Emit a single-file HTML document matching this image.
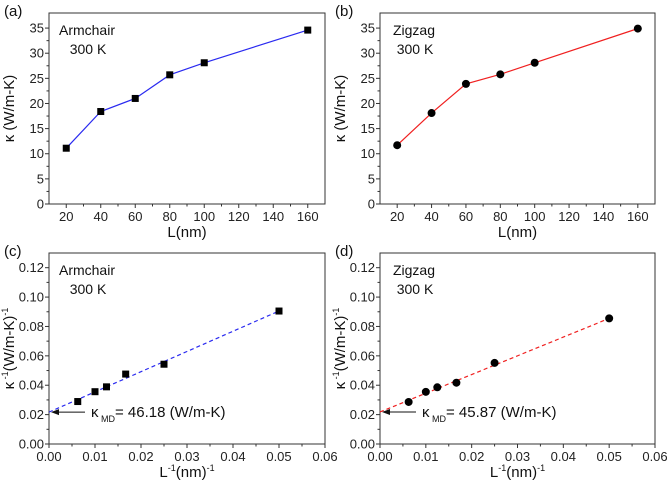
<!DOCTYPE html>
<html><head><meta charset="utf-8"><style>
body{margin:0;background:#fff}
svg{display:block;font-family:"Liberation Sans",sans-serif}
</style></head><body>
<svg id="fig" width="667" height="481" viewBox="0 0 667 481"></svg>
<script>
const lengthCats=[20,40,60,80,100,160];
const armchairK=[11.1,18.4,21.0,25.7,28.1,34.6];
const zigzagK=[11.7,18.1,23.9,25.8,28.1,34.9];
const invL=[0.00625,0.01,0.0125,0.01667,0.025,0.05];
const armchairInvK=[0.0289,0.0356,0.0389,0.0476,0.0543,0.0905];
const zigzagInvK=[0.0286,0.0355,0.0386,0.0417,0.0552,0.0855];
const armchairFit=[0.0217,0.0905];
const zigzagFit=[0.0218,0.0855];
const kTicks=[0,5,10,15,20,25,30,35];
const lTicks=[20,40,60,80,100,120,140,160];
const invLTicks=[0,0.01,0.02,0.03,0.04,0.05,0.06];
const invKTicks=[0,0.02,0.04,0.06,0.08,0.10,0.12];

const NS="http://www.w3.org/2000/svg";
const svg=document.getElementById('fig');
function mk(tag,attrs,parent,text){const e=document.createElementNS(NS,tag);for(const k in attrs)e.setAttribute(k,attrs[k]);if(text!==undefined)e.textContent=text;(parent||svg).appendChild(e);return e;}

function panel(o){
  const g=mk('g',{});
  
  
  const sx=v=>o.x0+(v-o.xmin)/(o.xmax-o.xmin)*(o.x1-o.x0);
  const sy=v=>o.y1-(v-o.ymin)/(o.ymax-o.ymin)*(o.y1-o.y0);
  const box=mk('rect',{x:o.x0,y:o.y0,width:o.x1-o.x0,height:o.y1-o.y0,fill:'none',stroke:'#333','stroke-width':1},g);
  
  
  o.xt.forEach(v=>{const x=sx(v);mk('line',{x1:x,x2:x,y1:o.y1,y2:o.y1+4,stroke:'#333'},g);
    const t=mk('text',{x:x,y:o.y1+17,'text-anchor':'middle','font-size':13,fill:'#222'},g,o.xf(v));
    });
  for(let i=0;i<o.xt.length-1;i++){const x=sx((o.xt[i]+o.xt[i+1])/2);mk('line',{x1:x,x2:x,y1:o.y1,y2:o.y1+2.5,stroke:'#333'},g);}
  o.yt.forEach(v=>{const y=sy(v);mk('line',{x1:o.x0-4,x2:o.x0,y1:y,y2:y,stroke:'#333'},g);
    const t=mk('text',{x:o.x0-5,y:y+4.5,'text-anchor':'end','font-size':13,fill:'#222'},g,o.yf(v));
    });
  for(let i=0;i<o.yt.length-1;i++){const y=sy((o.yt[i]+o.yt[i+1])/2);mk('line',{x1:o.x0-2.5,x2:o.x0,y1:y,y2:y,stroke:'#333'},g);}
  const pl=mk('text',{x:o.x0-45,y:o.y0+3,'font-size':15,fill:'#111'},g,o.label);
  
  const cx=o.x0+o.cx;
  const t1=mk('text',{x:cx,y:o.y0+22,'text-anchor':'middle','font-size':14,fill:'#111'},g,o.kind);
  
  const t2=mk('text',{x:cx+1,y:o.y0+41,'text-anchor':'middle','font-size':14,fill:'#111'},g,'300 K');
  
  const xt=mk('text',{x:(o.x0+o.x1)/2,y:o.y1+33,'text-anchor':'middle','font-size':15,fill:'#111'},g);
  
  const yt=mk('text',{transform:`translate(${o.x0-35},${(o.y0+o.y1)/2}) rotate(-90)`,'text-anchor':'middle','font-size':15,fill:'#111'},g);
  
  if(o.inv){
    xt.innerHTML='L<tspan dy="-6" font-size="9">-1</tspan><tspan dy="6">(nm)</tspan><tspan dy="-6" font-size="9">-1</tspan>';
    yt.innerHTML='κ<tspan dy="-6" font-size="9"> -1</tspan><tspan dy="6">(W/m-K)</tspan><tspan dy="-6" font-size="9">-1</tspan>';
    const fl=mk('line',{x1:sx(0),y1:sy(o.fit[0]),x2:sx(0.05),y2:sy(o.fit[1]),stroke:o.color,'stroke-width':1.2,'stroke-dasharray':'4,3'},g);
    
    const ay=sy(o.fit[0]);
    const ar=mk('line',{x1:o.x0+36,y1:ay,x2:o.x0+8,y2:ay,stroke:'#111','stroke-width':1},g);
    
    mk('polygon',{points:`${o.x0+2},${ay} ${o.x0+10},${ay-3} ${o.x0+10},${ay+3}`,fill:'#111'},g);
    const an=mk('text',{x:o.x0+42,y:ay+5,'font-size':15,fill:'#111'},g);
    an.innerHTML='κ<tspan dy="5" font-size="9"> MD</tspan><tspan dy="-5">= '+o.kmd+' (W/m-K)</tspan>';
    
  } else {
    xt.textContent='L(nm)';
    yt.textContent='κ (W/m-K)';
    const pts=o.xs.map((v,i)=>sx(v)+','+sy(o.ys[i])).join(' ');
    const ln=mk('polyline',{points:pts,fill:'none',stroke:o.color,'stroke-width':1.2},g);
    
  }
  o.xs.forEach((v,i)=>{
    let m;
    if(o.marker==='sq') m=mk('rect',{x:sx(v)-3.5,y:sy(o.ys[i])-3.5,width:7,height:7,fill:'#000'},g);
    else m=mk('circle',{cx:sx(v),cy:sy(o.ys[i]),r:4,fill:'#000'},g);
    
    
  });
}
const f2=v=>v.toFixed(2);
const f0=v=>String(v);
panel({name:'panel-a',label:'(a)',kind:'Armchair',cx:38,x0:49,x1:325,y0:13,y1:204,xmin:10,xmax:170,ymin:0,ymax:38,xt:lTicks,yt:kTicks,xf:f0,yf:f0,xs:lengthCats,ys:armchairK,color:'#2a2af0',marker:'sq'});
panel({name:'panel-b',label:'(b)',kind:'Zigzag',cx:34,x0:380,x1:655,y0:13,y1:204,xmin:10,xmax:170,ymin:0,ymax:38,xt:lTicks,yt:kTicks,xf:f0,yf:f0,xs:lengthCats,ys:zigzagK,color:'#f02020',marker:'ci'});
panel({name:'panel-c',label:'(c)',kind:'Armchair',cx:38,inv:true,x0:49,x1:325,y0:253,y1:444,xmin:0,xmax:0.06,ymin:0,ymax:0.13,xt:invLTicks,yt:invKTicks,xf:f2,yf:f2,xs:invL,ys:armchairInvK,fit:armchairFit,kmd:'46.18',color:'#2a2af0',marker:'sq'});
panel({name:'panel-d',label:'(d)',kind:'Zigzag',cx:34,inv:true,x0:380,x1:655,y0:253,y1:444,xmin:0,xmax:0.06,ymin:0,ymax:0.13,xt:invLTicks,yt:invKTicks,xf:f2,yf:f2,xs:invL,ys:zigzagInvK,fit:zigzagFit,kmd:'45.87',color:'#f02020',marker:'ci'});
</script>
</body></html>
